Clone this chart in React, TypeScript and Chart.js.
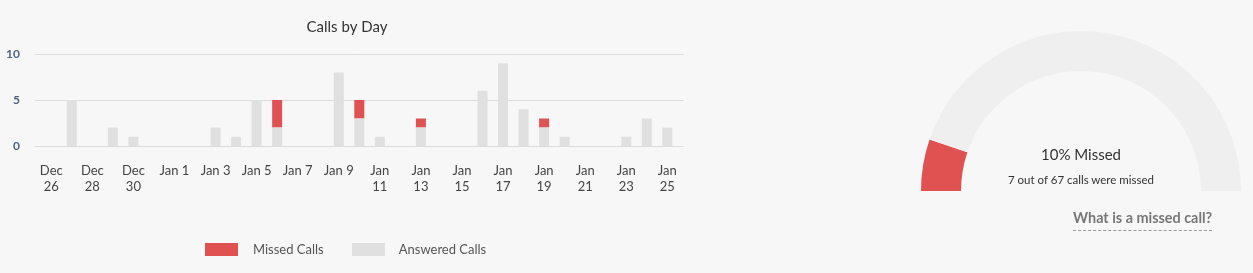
import React, { useEffect, useRef } from 'react';
import { Chart, registerables } from 'chart.js';

Chart.register(...registerables);

const FONT = 'Lato, "Source Sans Pro", "Noto Sans", sans-serif';

const days = [
  'Dec 26', 'Dec 27', 'Dec 28', 'Dec 29', 'Dec 30', 'Dec 31',
  'Jan 1', 'Jan 2', 'Jan 3', 'Jan 4', 'Jan 5', 'Jan 6', 'Jan 7', 'Jan 8',
  'Jan 9', 'Jan 10', 'Jan 11', 'Jan 12', 'Jan 13', 'Jan 14', 'Jan 15',
  'Jan 16', 'Jan 17', 'Jan 18', 'Jan 19', 'Jan 20', 'Jan 21', 'Jan 22',
  'Jan 23', 'Jan 24', 'Jan 25',
];
const answeredCalls = [0, 5, 0, 2, 1, 0, 0, 0, 2, 1, 5, 2, 0, 0, 8, 3, 1, 0, 2, 0, 0, 6, 9, 4, 2, 1, 0, 0, 1, 3, 2];
const missedCalls = [0, 0, 0, 0, 0, 0, 0, 0, 0, 0, 0, 3, 0, 0, 0, 2, 0, 0, 1, 0, 0, 0, 0, 0, 1, 0, 0, 0, 0, 0, 0];
const yMax = 10;
const yStep = 5;

const seriesNames = ['Missed Calls', 'Answered Calls'];
const RED = '#e05252';
const GREY = '#e0e0e0';
const RING = '#efefef';

const totalMissed = missedCalls.reduce((a, b) => a + b, 0);
const totalCalls = totalMissed + answeredCalls.reduce((a, b) => a + b, 0);

function tickText(label: string): string | string[] {
  const [m, d] = label.split(' ');
  return d.length > 1 ? [m, d] : label;
}

const gridPlugin = {
  id: 'extGrid',
  beforeDatasetsDraw(chart: any) {
    const { ctx, chartArea, scales } = chart;
    const y = scales.y;
    ctx.save();
    ctx.strokeStyle = '#dcdcdc';
    ctx.lineWidth = 1;
    y.ticks.forEach((t: any) => {
      const py = Math.round(y.getPixelForValue(t.value)) + 0.5;
      ctx.beginPath();
      ctx.moveTo(chartArea.left - 6, py);
      ctx.lineTo(chartArea.right + 6, py);
      ctx.stroke();
    });
    ctx.restore();
  },
};

export default function App() {
  const barRef = useRef<HTMLCanvasElement>(null);
  const gaugeRef = useRef<HTMLCanvasElement>(null);

  useEffect(() => {
    document.body.style.margin = '0';
    document.body.style.background = '#f7f7f7';
    Chart.defaults.font.family = FONT;

    const bar = new Chart(barRef.current!, {
      type: 'bar',
      data: {
        labels: days,
        datasets: [
          { label: seriesNames[1], data: answeredCalls, backgroundColor: GREY, barThickness: 10, stack: 's', inflateAmount: 0, borderWidth: 0 },
          { label: seriesNames[0], data: missedCalls, backgroundColor: RED, barThickness: 10, stack: 's', inflateAmount: 0, borderWidth: 0 },
        ],
      },
      options: {
        responsive: false,
        animation: false,
        layout: { padding: { left: 0, right: 0, top: 0, bottom: 67 } },
        plugins: {
          legend: { display: false },
          tooltip: { enabled: false },
          title: {
            display: true,
            text: 'Calls by Day',
            color: '#333',
            font: { size: 15, weight: 'normal', family: FONT },
            padding: { top: 18, bottom: 18 },
          },
        },
        scales: {
          x: {
            stacked: true,
            grid: { display: false, drawTicks: false },
            border: { display: false },
            ticks: {
              autoSkip: false,
              maxRotation: 0,
              minRotation: 0,
              padding: 17,
              color: '#444',
              font: { size: 13, family: FONT, lineHeight: 1.2 },
              callback: (_v: any, i: number) => (i % 2 === 0 ? tickText(days[i]) : ''),
            },
            afterFit: (s: any) => { s.height = 60; },
          },
          y: {
            stacked: true,
            min: 0,
            max: yMax,
            grid: { display: false, drawTicks: false },
            border: { display: false },
            ticks: {
              stepSize: yStep,
              padding: 21,
              color: '#4f6580',
              font: { size: 12, weight: 'bold', family: FONT },
            },
            afterFit: (s: any) => { s.width = 41; },
          },
          yRight: {
            position: 'right',
            display: true,
            min: 0,
            max: yMax,
            grid: { display: false, drawTicks: false },
            border: { display: false },
            ticks: { display: false },
            afterFit: (s: any) => { s.width = 12; },
          },
        },
      },
      plugins: [gridPlugin],
    });

    const gauge = new Chart(gaugeRef.current!, {
      type: 'doughnut',
      data: {
        labels: ['Missed', 'Answered'],
        datasets: [
          {
            data: [totalMissed, totalCalls - totalMissed],
            backgroundColor: [RED, RING],
            borderWidth: 0,
          },
        ],
      },
      options: {
        responsive: false,
        animation: false,
        rotation: -90,
        circumference: 180,
        cutout: '75%',
        layout: { padding: 0 },
        plugins: { legend: { display: false }, tooltip: { enabled: false } },
      },
    });

    return () => {
      bar.destroy();
      gauge.destroy();
    };
  }, []);

  const pct = Math.round((totalMissed / totalCalls) * 100);

  return (
    <div style={{ position: 'relative', width: 1253, height: 273, background: '#f7f7f7', fontFamily: FONT, overflow: 'hidden' }}>
      <canvas ref={barRef} width={694} height={273} style={{ position: 'absolute', left: 0, top: 0 }} />
      {/* legend */}
      <div style={{ position: 'absolute', left: 205, top: 243, display: 'flex', alignItems: 'center', fontSize: 13, color: '#555', lineHeight: '13px' }}>
        <span style={{ display: 'inline-block', width: 33, height: 13, background: RED }} />
        <span style={{ marginLeft: 15 }}>{seriesNames[0]}</span>
        <span style={{ display: 'inline-block', width: 33, height: 13, background: GREY, marginLeft: 28 }} />
        <span style={{ marginLeft: 14 }}>{seriesNames[1]}</span>
      </div>
      <canvas ref={gaugeRef} width={320} height={160} style={{ position: 'absolute', left: 921, top: 31 }} />
      <div style={{ position: 'absolute', left: 981, width: 200, top: 145, textAlign: 'center', fontSize: 15, color: '#333', lineHeight: '18px' }}>
        {pct}% Missed
      </div>
      <div style={{ position: 'absolute', left: 981, width: 200, top: 172, textAlign: 'center', fontSize: 11.5, color: '#333', lineHeight: '15px' }}>
        {totalMissed} out of {totalCalls} calls were missed
      </div>
      <div style={{ position: 'absolute', left: 1073, top: 209, fontSize: 14.4, fontWeight: 'bold', color: '#777', lineHeight: '18px', paddingBottom: 3, borderBottom: '1px dashed #999' }}>
        What is a missed call?
      </div>
    </div>
  );
}
